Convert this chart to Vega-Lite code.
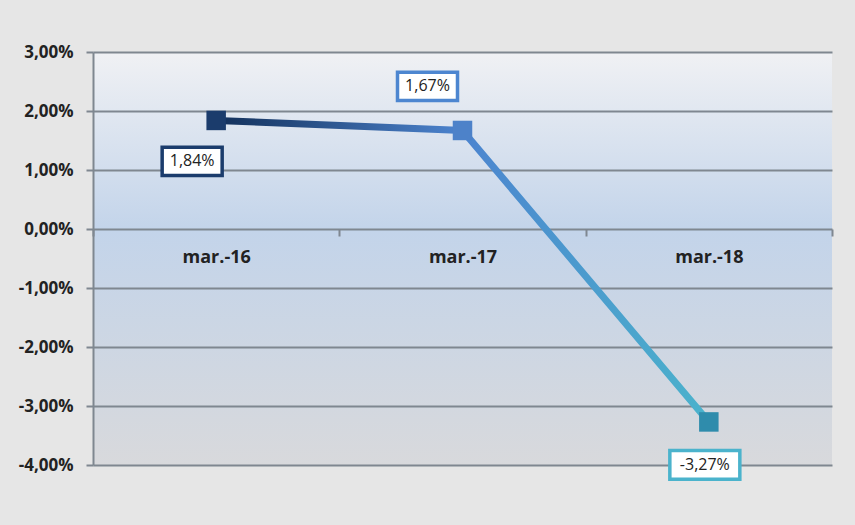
{
  "$schema": "https://vega.github.io/schema/vega-lite/v6.json",
  "width": 739,
  "height": 413,
  "autosize": "none",
  "padding": {"left": 93, "top": 52, "right": 23, "bottom": 60},
  "background": "#e6e6e6",
  "config": {
    "view": {
      "stroke": null,
      "fill": {"gradient": "linear", "x1": 0, "y1": 0, "x2": 0, "y2": 1,
        "stops": [
          {"offset": 0, "color": "#f0f1f4"},
          {"offset": 0.43, "color": "#c3d4ea"},
          {"offset": 1, "color": "#d8d9dc"}
        ]}
    },
    "font": "Lato"
  },
  "data": {"values": [
    {"month": "mar.-16", "value": 0.0184, "label": "1,84%"},
    {"month": "mar.-17", "value": 0.0167, "label": "1,67%"},
    {"month": "mar.-18", "value": -0.0327, "label": "-3,27%"}
  ]},
  "encoding": {
    "x": {"field": "month", "type": "nominal", "sort": null,
      "scale": {"paddingInner": 0, "paddingOuter": 0},
      "axis": {"title": null, "orient": "bottom", "offset": -236, "domain": false,
        "tickBand": "extent", "tickSize": 7, "tickColor": "#7f8790", "tickWidth": 2,
        "labelAngle": 0, "labelFont": "Open Sans", "labelFontWeight": "bold", "labelFontSize": 18,
        "labelColor": "#222222", "labelPadding": 12, "grid": false}},
    "y": {"field": "value", "type": "quantitative",
      "scale": {"domain": [-0.04, 0.03], "nice": false, "zero": false},
      "axis": {"title": null, "values": [-0.04, -0.03, -0.02, -0.01, 0, 0.01, 0.02, 0.03],
        "labelExpr": "replace(replace(format(datum.value, '.2%'), '.', ','), '\u2212', '-')",
        "labelFont": "Open Sans", "labelFontWeight": "bold", "labelFontSize": 17, "labelColor": "#222222",
        "labelPadding": 13, "tickSize": 7, "tickColor": "#7f8790", "tickWidth": 2,
        "domain": true, "domainColor": "#7f8790", "domainWidth": 2,
        "grid": true, "gridColor": "#7f8790", "gridWidth": 2, "gridOpacity": 1}}
  },
  "layer": [
    {"mark": {"type": "line", "strokeWidth": 7,
      "color": {"gradient": "linear", "x1": 0, "y1": 0, "x2": 1, "y2": 0,
        "stops": [
          {"offset": 0, "color": "#13305a"},
          {"offset": 0.5, "color": "#4c84cf"},
          {"offset": 1, "color": "#4bb3cc"}
        ]}}},
    {"mark": {"type": "point", "shape": "square", "filled": true, "size": 380, "opacity": 1},
      "encoding": {"color": {"field": "month", "type": "nominal", "legend": null,
        "scale": {"range": ["#1b3c6c", "#4d82c9", "#2f8cac"]}}}},
    {"transform": [{"filter": "datum.month == 'mar.-16'"}],
      "mark": {"type": "point", "shape": "M-1,-0.47H1V0.47H-1Z", "size": 3600, "filled": false,
        "fill": "#ffffff", "fillOpacity": 1, "stroke": "#1b3c6c", "strokeWidth": 3.5, "opacity": 1,
        "xOffset": -24, "yOffset": 41}},
    {"transform": [{"filter": "datum.month == 'mar.-17'"}],
      "mark": {"type": "point", "shape": "M-1,-0.47H1V0.47H-1Z", "size": 3600, "filled": false,
        "fill": "#ffffff", "fillOpacity": 1, "stroke": "#4d86d0", "strokeWidth": 3.5, "opacity": 1,
        "xOffset": -35, "yOffset": -44}},
    {"transform": [{"filter": "datum.month == 'mar.-18'"}],
      "mark": {"type": "point", "shape": "M-1,-0.41H1V0.41H-1Z", "size": 4900, "filled": false,
        "fill": "#ffffff", "fillOpacity": 1, "stroke": "#4bb3cc", "strokeWidth": 3.5, "opacity": 1,
        "xOffset": -4, "yOffset": 43}},
    {"transform": [{"filter": "datum.month == 'mar.-16'"}],
      "mark": {"type": "text", "font": "Open Sans", "fontSize": 16, "color": "#222222", "dx": -24, "dy": 41},
      "encoding": {"text": {"field": "label"}}},
    {"transform": [{"filter": "datum.month == 'mar.-17'"}],
      "mark": {"type": "text", "font": "Open Sans", "fontSize": 16, "color": "#222222", "dx": -35, "dy": -44},
      "encoding": {"text": {"field": "label"}}},
    {"transform": [{"filter": "datum.month == 'mar.-18'"}],
      "mark": {"type": "text", "font": "Open Sans", "fontSize": 16, "color": "#222222", "dx": -4, "dy": 43},
      "encoding": {"text": {"field": "label"}}}
  ]
}
